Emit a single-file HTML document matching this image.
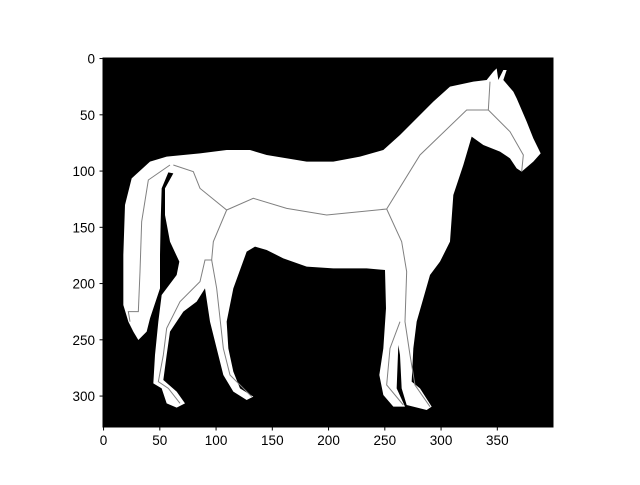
<!DOCTYPE html>
<html><head><meta charset="utf-8"><style>
html,body{margin:0;padding:0;background:#fff;}
body{width:640px;height:480px;overflow:hidden;font-family:"Liberation Sans","DejaVu Sans",sans-serif;}
</style></head><body>
<svg id="chart" width="640" height="480" viewBox="0 0 640 480" xmlns="http://www.w3.org/2000/svg">
<defs><clipPath id="ax"><rect x="103" y="58" width="450" height="369"/></clipPath></defs>
<rect x="103" y="58" width="450" height="369" fill="#000"/>
<g clip-path="url(#ax)">
<g transform="translate(100,55) scale(0.33333)">
<polygon fill="#fff" points="150,320 200,305 300,295 380,285 450,285 500,300 620,320 700,320 780,305 850,285 900,240 1000,140 1050,95 1120,80 1160,75 1180,50 1190,40 1195,75 1210,45 1220,45 1210,75 1240,110 1250,130 1280,200 1300,250 1322,295 1300,320 1265,350 1250,340 1230,310 1200,290 1150,270 1115,245 1090,330 1060,420 1050,560 1020,620 990,660 970,730 950,800 940,880 935,980 960,1000 995,1055 980,1065 920,1050 905,1000 900,900 895,870 890,1000 915,1055 880,1055 850,1020 838,960 850,880 858,760 855,645 800,640 700,640 620,635 550,610 500,585 465,575 440,590 400,700 380,800 385,880 400,950 420,1000 460,1025 440,1035 400,1010 370,960 350,880 330,800 315,700 290,740 250,770 210,830 200,900 190,975 230,1010 255,1045 230,1058 200,1045 185,1000 160,985 165,900 175,800 185,720 230,660 238,620 210,560 195,480 195,400 220,355 205,352 185,400 182,500 180,600 180,700 150,790 140,830 115,855 100,830 85,800 70,750 70,600 75,450 95,370"/>
<g fill="none" stroke="#808080" stroke-width="3">
<polyline points="220,330 280,350 300,400 380,465 460,430 560,460 680,480 860,462 960,300 1100,165 1165,165 1170,80"/>
<polyline points="1165,165 1230,230 1270,300 1265,350"/>
<polyline points="210,330 145,375 125,500 120,650 115,770 85,770 90,800"/>
<polyline points="380,465 340,560 335,615 315,615 300,680 240,740 200,820 190,900 175,980 205,1000 240,1045"/>
<polyline points="335,615 350,700 370,880 390,960 455,1025"/>
<polyline points="860,462 905,560 920,650 915,800 930,900 945,990 990,1055"/>
<polyline points="900,800 870,880 860,990 910,1050"/>
</g>
</g>
</g>
<rect x="103" y="58" width="450" height="369" fill="none" stroke="#000" stroke-width="1"/>
<g id="ticks"></g>
</svg>
<script>
const xTicks = [0, 50, 100, 150, 200, 250, 300, 350];
const yTicks = [0, 50, 100, 150, 200, 250, 300];
const ax = {left:103, top:58, scale:1.125};
function xScale(v){return ax.left + (v+0.5)*ax.scale;}
function yScale(v){return ax.top + (v+0.5)*ax.scale;}
const NS = "http://www.w3.org/2000/svg";
const g = document.getElementById('ticks');
xTicks.forEach(function(v){
  const x = xScale(v);
  const l = document.createElementNS(NS,'line');
  
  
  l.setAttribute('x1',x);l.setAttribute('x2',x);l.setAttribute('y1',427);l.setAttribute('y2',430.5);l.setAttribute('stroke','#000');
  g.appendChild(l);
  const t = document.createElementNS(NS,'text');
  
  
  t.setAttribute('x',x);t.setAttribute('y',445);t.setAttribute('text-anchor','middle');t.setAttribute('font-size','13.5');
  t.textContent = v;
  g.appendChild(t);
});
yTicks.forEach(function(v){
  const y = yScale(v);
  const l = document.createElementNS(NS,'line');
  
  
  l.setAttribute('x1',99.5);l.setAttribute('x2',103);l.setAttribute('y1',y);l.setAttribute('y2',y);l.setAttribute('stroke','#000');
  g.appendChild(l);
  const t = document.createElementNS(NS,'text');
  
  
  t.setAttribute('x',95);t.setAttribute('y',y+5);t.setAttribute('text-anchor','end');t.setAttribute('font-size','13.5');
  t.textContent = v;
  g.appendChild(t);
});
</script>
</body></html>
